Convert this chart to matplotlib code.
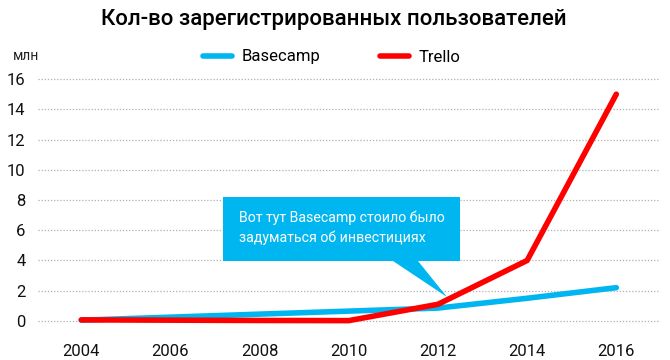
import numpy as np
import matplotlib
matplotlib.use('Agg')
import matplotlib.pyplot as plt
from matplotlib.patches import Polygon

# данные
years = [2004, 2006, 2008, 2010, 2012, 2014, 2016]
basecamp = [0.05, 0.25, 0.45, 0.65, 0.85, 1.5, 2.2]
trello = [0.07, 0.05, 0.03, 0.02, 1.1, 4.0, 15.0]
y_ticks = [0, 2, 4, 6, 8, 10, 12, 14, 16]

title = 'Кол-во зарегистрированных пользователей'
note = 'Вот тут Basecamp стоило было\nзадуматься об инвестициях'

BLUE = '#00b6f0'
RED = '#ff0000'

plt.rcParams['font.family'] = ['Roboto', 'DejaVu Sans']

W, H = 670, 360
fig = plt.figure(figsize=(W / 100, H / 100), dpi=100)


def px(x, y):
    """пиксели -> доли фигуры"""
    return x / W, 1 - y / H


l, t = px(38, 70)
r, b = px(660, 330)
ax = fig.add_axes([l, b, r - l, t - b])

ax.plot(years, basecamp, color=BLUE, lw=4, solid_capstyle='round', label='Basecamp', zorder=3)
ax.plot(years, trello, color=RED, lw=4, solid_capstyle='round', label='Trello', zorder=4)

ax.set_xlim(2003.03, 2016.98)
ax.set_ylim(-0.6, 16.6)
ax.set_xticks(years)
ax.set_yticks(y_ticks)
ax.tick_params(length=0, labelsize=12, colors='#111111')
ax.tick_params(axis='y', pad=9)
ax.tick_params(axis='x', pad=10)
ax.grid(axis='y', color='#b0b0b0', ls=(0, (1, 1.5)), lw=0.9)
for s in ax.spines.values():
    s.set_visible(False)

leg = fig.legend(loc='center', bbox_to_anchor=px(332, 57), ncol=2, frameon=False,
                 fontsize=12, handlelength=1.7, columnspacing=3.6, handletextpad=0.6)
for h in leg.get_lines():
    h.set_linewidth(4)

fig.text(*px(334, 20), title, ha='center', va='center', fontsize=16, fontweight='medium')
fig.text(*px(13, 56), 'млн', ha='left', va='center', fontsize=10, color='#222222')

# выноска
box = [px(223, 197), px(460, 197), px(460, 261), px(418, 261),
       px(447, 297), px(393, 261), px(223, 261)]
fig.patches.append(Polygon(box, closed=True, transform=fig.transFigure,
                           facecolor=BLUE, edgecolor='none', zorder=5))
fig.text(*px(239, 228), note, ha='left', va='center', fontsize=10.2, color='white',
         linespacing=1.5, zorder=6)

fig.savefig('out.png', dpi=100)
